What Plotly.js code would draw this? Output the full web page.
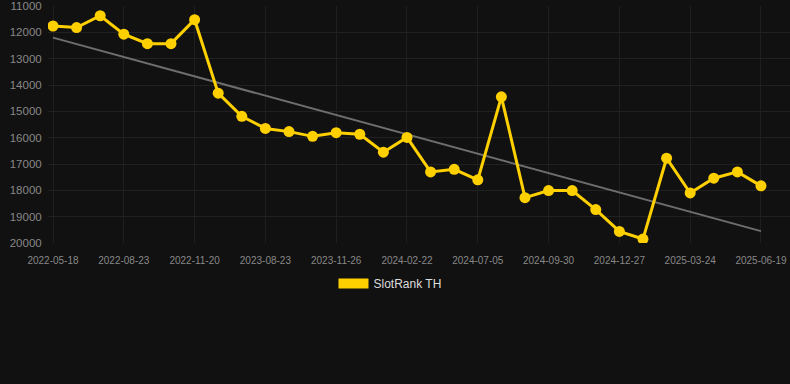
<!DOCTYPE html>
<html>
<head>
<meta charset="utf-8">
<script src="https://cdn.plot.ly/plotly-3.0.1.min.js"></script>
<style>html,body{margin:0;padding:0;background:#111111;}#chart{width:790px;height:384px;}</style>
</head>
<body>
<div id="chart"></div>
<script>
// Category index of each observation (evenly spaced points)
const pointIndex = [0,1,2,3,4,5,6,7,8,9,10,11,12,13,14,15,16,17,18,19,20,21,22,23,24,25,26,27,28,29,30];
const rankValues = [11760,11820,11370,12070,12430,12430,11520,14310,15190,15650,15770,15950,15810,15870,16550,15990,17300,17200,17600,14450,18280,18010,18010,18730,19560,19850,16780,18100,17540,17300,17830];
const tickIndex = [0,3,6,9,12,15,18,21,24,27,30];
const tickLabels = ["2022-05-18","2022-08-23","2022-11-20","2023-08-23","2023-11-26","2024-02-22","2024-07-05","2024-09-30","2024-12-27","2025-03-24","2025-06-19"];
const yTicks = [11000,12000,13000,14000,15000,16000,17000,18000,19000,20000];
const yTickLabels = ['11000','12000','13000','14000','15000','16000','17000','18000','19000','20000'];
const trendX = [0,30];
const trendY = [12200,19550];
const seriesName = "SlotRank TH";

const traces = [
  {x: trendX, y: trendY, type: 'scatter', mode: 'lines', line: {color: '#6e6e6e', width: 2}, showlegend: false, hoverinfo: 'skip'},
  {x: pointIndex, y: rankValues, type: 'scatter', mode: 'lines+markers', name: seriesName,
   line: {color: '#FFD000', width: 3}, marker: {color: '#FFD000', size: 11}, showlegend: false},
  {x: [null], y: [null], type: 'scatter', mode: 'lines', name: seriesName,
   line: {color: '#FFD000', width: 12}, showlegend: true}
];

const layout = {
  width: 790, height: 384,
  paper_bgcolor: '#111111', plot_bgcolor: '#111111',
  margin: {l: 48, r: 0, t: 6, b: 141},
  font: {family: 'Liberation Sans, Arial, sans-serif', color: '#888888'},
  xaxis: {
    range: [-0.212, 31.23], tickvals: tickIndex, ticktext: tickLabels,
    showgrid: true, gridcolor: '#1f1f1f', zeroline: false, showline: false,
    ticks: 'outside', ticklen: 8, tickcolor: 'rgba(0,0,0,0)', tickfont: {size: 10, color: '#888888'}
  },
  yaxis: {
    range: [20000, 11000], tickvals: yTicks, ticktext: yTickLabels,
    showgrid: true, gridcolor: '#212121', zeroline: false, showline: false,
    ticks: 'outside', ticklen: 3, tickcolor: 'rgba(0,0,0,0)', tickfont: {size: 11.5, color: '#888888'}
  },
  showlegend: true,
  legend: {orientation: 'h', x: 0.4609, xanchor: 'center', y: -0.11, yanchor: 'top',
    font: {size: 12, color: '#dddddd'}, bgcolor: 'rgba(0,0,0,0)'},
  hovermode: false
};

Plotly.newPlot('chart', traces, layout, {displayModeBar: false, staticPlot: true});
</script>
</body>
</html>
